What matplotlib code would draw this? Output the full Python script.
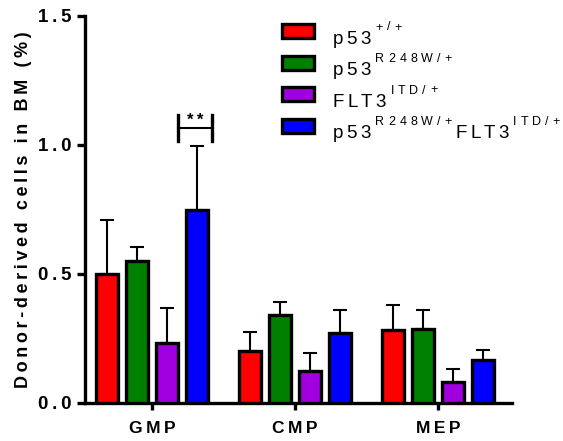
import numpy as np
import matplotlib
matplotlib.use("Agg")
import matplotlib.pyplot as plt
from matplotlib.patches import Rectangle

plt.rcParams['font.family'] = ['Liberation Sans', 'DejaVu Sans']

# data
populations = ["GMP", "CMP", "MEP"]
# legend labels as (base, superscript) pieces
genotypes = [
    [("p53", "+/+")],
    [("p53", "R248W/+")],
    [("FLT3", "ITD/+")],
    [("p53", "R248W/+"), ("FLT3", "ITD/+")],
]
colors = ["#ff0000", "#008000", "#a000e0", "#0000ff"]
wt = [0.50, 0.20, 0.28]
wt_err = [0.21, 0.075, 0.097]
r248w = [0.55, 0.34, 0.286]
r248w_err = [0.053, 0.05, 0.072]
itd = [0.231, 0.123, 0.079]
itd_err = [0.136, 0.071, 0.051]
double = [0.748, 0.272, 0.165]
double_err = [0.247, 0.086, 0.04]

means = [wt, r248w, itd, double]
errs = [wt_err, r248w_err, itd_err, double_err]

W, H = 563, 441


def spaced(s, gap='\u2009'):
    # wide letter spacing like the original
    return gap.join(s)


fig = plt.figure(figsize=(W / 100, H / 100), dpi=100)
ax = fig.add_axes([0.151, 0.087, 0.758, 0.877])

x = np.arange(len(populations))
step = 0.21
width = 0.15
for i in range(4):
    pos = x + (i - 1.5) * step
    ax.bar(pos, means[i], width, color=colors[i], edgecolor='black',
           linewidth=2.4, zorder=3)
    ax.errorbar(pos, means[i], yerr=[np.zeros(3), errs[i]], fmt='none',
                ecolor='black', elinewidth=1.5, capsize=4.7, capthick=1.5,
                zorder=2)

# significance bracket
bx0, bx1, by = 0.18, 0.42, 1.064
ax.plot([bx0, bx1], [by, by], color='black', lw=1.5, clip_on=False)
ax.plot([bx0, bx0], [1.015, 1.115], color='black', lw=2.4, clip_on=False)
ax.plot([bx1, bx1], [1.015, 1.115], color='black', lw=2.4, clip_on=False)
ax.text((bx0 + bx1) / 2, by + 0.003, spaced("**"), ha='center', va='bottom',
        fontsize=12, fontweight='bold')

ax.set_xlim(-0.468, 2.517)
ax.set_ylim(0, 1.5)
ax.set_yticks([0, 0.5, 1.0, 1.5])
ax.set_yticklabels([spaced(f"{v:.1f}") for v in [0, 0.5, 1.0, 1.5]],
                   fontsize=13.5, fontweight='bold')
ax.set_xticks(x)
ax.set_xticklabels([spaced(p) for p in populations], fontsize=12.5,
                   fontweight='bold')
ax.set_ylabel(spaced("Donor-derived cells in BM (%)"), fontsize=13,
              fontweight='bold', labelpad=4)

for s in ['top', 'right']:
    ax.spines[s].set_visible(False)
for s in ['left', 'bottom']:
    ax.spines[s].set_linewidth(2.4)
ax.tick_params(axis='y', length=6, width=2.4, pad=4)
ax.tick_params(axis='x', length=5, width=2.4, pad=8)

# legend drawn by hand so the superscripts sit high like the original
renderer = fig.canvas.get_renderer()


def tracked(xp, yp, s, size, track):
    # one glyph at a time, with extra pixels between letters
    for ch in s:
        t = fig.text(xp / W, 1 - yp / H, ch, fontsize=size,
                     ha='left', va='baseline')
        xp = t.get_window_extent(renderer).x1 + track
    return xp - track


row_top = 24
row_step = 31.5
for i, pieces in enumerate(genotypes):
    top = row_top + i * row_step
    fig.patches.append(Rectangle((282 / W, 1 - (top + 14) / H), 32 / W, 14 / H,
                                 transform=fig.transFigure, facecolor=colors[i],
                                 edgecolor='black', linewidth=2.4))
    xp = 333
    base_y = top + 20
    for base, sup in pieces:
        xp = tracked(xp, base_y, base, 13.5, 3) + 5
        xp = tracked(xp, base_y - 13.5, sup, 9, 4) + 4

fig.savefig("out.png", dpi=100)
